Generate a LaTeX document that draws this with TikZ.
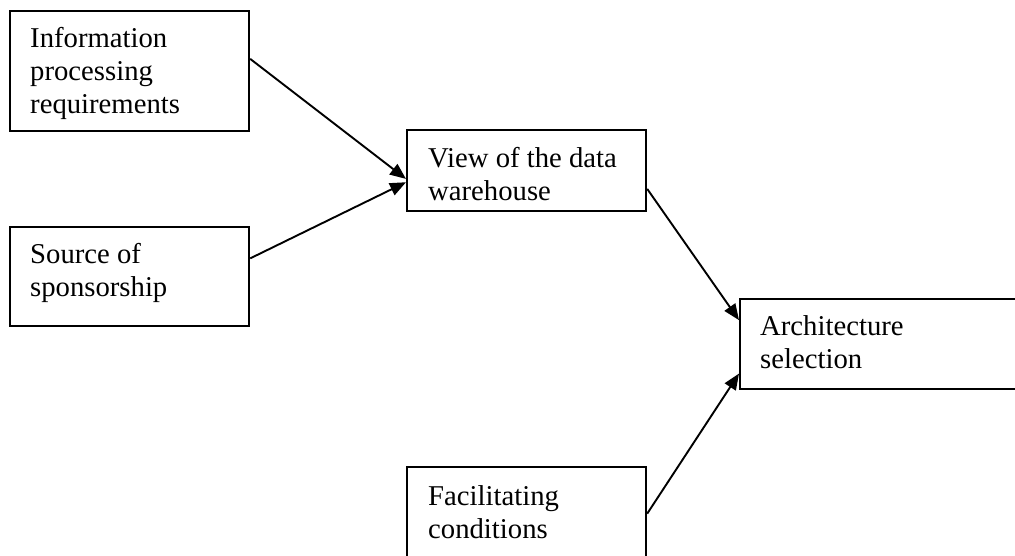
\documentclass[tikz,border=0pt]{standalone}
\usepackage{fontspec}
\setmainfont{Liberation Serif}
\usetikzlibrary{arrows.meta,calc}
\tikzset{
  box/.style={draw=black, line width=2.2pt, rectangle, inner sep=0pt, anchor=north west},
  lbl/.style={inner sep=0pt, anchor=base west, align=left, font=\fontsize{28.7}{33}\selectfont},
  conn/.style={line width=1.9pt, -{Triangle[length=16pt,width=13pt]}}
}
\begin{document}
\begin{tikzpicture}[x=1pt,y=-1pt]
\useasboundingbox (0,0) rectangle (1015,556);
\clip (0,0) rectangle (1015,556);
\fill[white] (0,0) rectangle (1015,556);
% boxes
\node[box, minimum width=239pt, minimum height=120pt] (info) at (9,10) {};
\node[box, minimum width=239pt, minimum height=99pt] (src) at (9,226) {};
\node[box, minimum width=239pt, minimum height=81pt] (view) at (406,129) {};
\node[box, minimum width=300pt, minimum height=90pt] (arch) at (739,298) {};
\node[box, minimum width=239pt, minimum height=120pt] (fac) at (406,466) {};
% labels (base anchor = baseline of last line)
\node[lbl] (infot) at ($(info.north west)+(21,104)$) {Information\\processing\\requirements};
\node[lbl] (srct) at ($(src.north west)+(21,70)$) {Source of\\sponsorship};
\node[lbl] (viewt) at ($(view.north west)+(22,72)$) {View of the data\\warehouse};
\node[lbl] (archt) at ($(arch.north west)+(21,70)$) {Architecture\\selection};
\node[lbl] (fact) at ($(fac.north west)+(22,72)$) {Facilitating\\conditions};
% connection points
\coordinate (a1s) at ($(info.north east)!0.40!(info.south east)$);
\coordinate (a1e) at ($(view.north west)!0.60!(view.south west)$);
\coordinate (a2s) at ($(src.north east)!0.32!(src.south east)$);
\coordinate (a2e) at ($(view.north west)!0.64!(view.south west)$);
\coordinate (a3s) at ($(view.north east)!0.72!(view.south east)$);
\coordinate (a3e) at ($(arch.north west)!0.24!(arch.south west)$);
\coordinate (a4s) at ($(fac.north east)!0.39!(fac.south east)$);
\coordinate (a4e) at ($(arch.north west)!0.82!(arch.south west)$);
\draw[conn] (a1s) -- (a1e);
\draw[conn] (a2s) -- (a2e);
\draw[conn] (a3s) -- (a3e);
\draw[conn] (a4s) -- (a4e);
\end{tikzpicture}
\end{document}
